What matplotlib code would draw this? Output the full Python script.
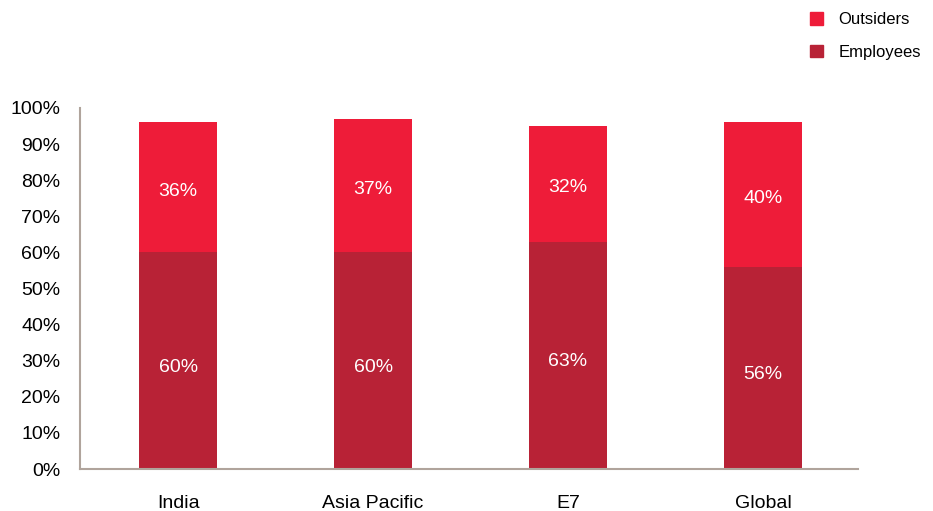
import matplotlib.pyplot as plt
from matplotlib.patches import Patch

plt.rcParams['font.family'] = ['Liberation Sans', 'DejaVu Sans']

regions = ['India', 'Asia Pacific', 'E7', 'Global']
employees = [60, 60, 63, 56]
outsiders = [36, 37, 32, 40]

emp_color = '#B82236'
out_color = '#EE1C39'
axis_color = '#B0A49C'

fig = plt.figure(figsize=(9.33, 5.11), dpi=100)
ax = fig.add_axes([80 / 933, 42 / 511, 778 / 933, 361 / 511])

x = range(len(regions))
ax.bar(x, employees, width=0.4, color=emp_color, edgecolor='none')
ax.bar(x, outsiders, width=0.4, bottom=employees, color=out_color, edgecolor='none')

# value labels sit a touch below the segment middle
for i in x:
    ax.text(i, employees[i] / 2 - 1.2, f'{employees[i]}%', ha='center',
            va='center_baseline', color='white', fontsize=14)
    ax.text(i, employees[i] + outsiders[i] / 2 - 0.6, f'{outsiders[i]}%',
            ha='center', va='center_baseline', color='white', fontsize=14)

ax.set_xlim(-0.503, 3.487)
ax.set_ylim(0, 100)
ax.set_yticks(range(0, 101, 10))
ax.set_yticklabels([f'{v}%' for v in range(0, 101, 10)], fontsize=14)
ax.set_xticks(list(x))
ax.set_xticklabels(regions, fontsize=14)
ax.tick_params(axis='y', length=0, pad=14)
ax.tick_params(axis='x', length=0, pad=19)

for side in ['top', 'right']:
    ax.spines[side].set_visible(False)
for side in ['left', 'bottom']:
    ax.spines[side].set_color(axis_color)
    ax.spines[side].set_linewidth(1.5)

handles = [Patch(color=out_color, label='Outsiders'),
           Patch(color=emp_color, label='Employees')]
fig.legend(handles=handles, loc='upper left', bbox_to_anchor=(795 / 933, 1.006),
           frameon=False, fontsize=12, handlelength=0.8, handleheight=0.8,
           handletextpad=0.9, labelspacing=1.05)

fig.savefig('out.png', dpi=100)
